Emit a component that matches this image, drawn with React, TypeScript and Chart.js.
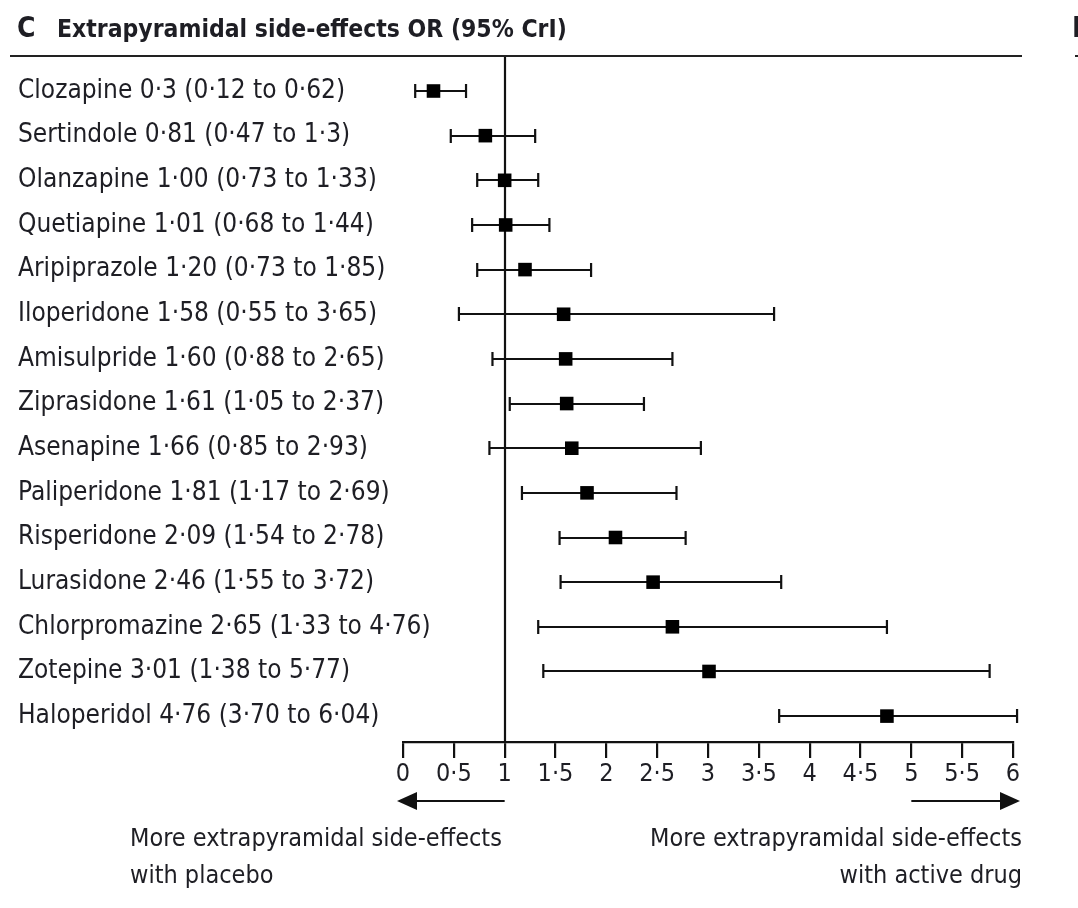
import React, { useEffect, useRef } from "react";
import { Chart, registerables } from "chart.js";

Chart.register(...registerables);

const rowLabels = [
  "Clozapine 0·3 (0·12 to 0·62)",
  "Sertindole 0·81 (0·47 to 1·3)",
  "Olanzapine 1·00 (0·73 to 1·33)",
  "Quetiapine 1·01 (0·68 to 1·44)",
  "Aripiprazole 1·20 (0·73 to 1·85)",
  "Iloperidone 1·58 (0·55 to 3·65)",
  "Amisulpride 1·60 (0·88 to 2·65)",
  "Ziprasidone 1·61 (1·05 to 2·37)",
  "Asenapine 1·66 (0·85 to 2·93)",
  "Paliperidone 1·81 (1·17 to 2·69)",
  "Risperidone 2·09 (1·54 to 2·78)",
  "Lurasidone 2·46 (1·55 to 3·72)",
  "Chlorpromazine 2·65 (1·33 to 4·76)",
  "Zotepine 3·01 (1·38 to 5·77)",
  "Haloperidol 4·76 (3·70 to 6·04)",
];
const oddsRatio = [0.3, 0.81, 1.0, 1.01, 1.2, 1.58, 1.6, 1.61, 1.66, 1.81, 2.09, 2.46, 2.65, 3.01, 4.76];
const lowerCI = [0.12, 0.47, 0.73, 0.68, 0.73, 0.55, 0.88, 1.05, 0.85, 1.17, 1.54, 1.55, 1.33, 1.38, 3.7];
const upperCI = [0.62, 1.3, 1.33, 1.44, 1.85, 3.65, 2.65, 2.37, 2.93, 2.69, 2.78, 3.72, 4.76, 5.77, 6.04];
const xMin = 0;
const xMax = 6;
const xStep = 0.5;
const referenceValue = 1;

const panelLetter = "C";
const titleText = "Extrapyramidal side-effects OR (95% CrI)";
const leftNote = ["More extrapyramidal side-effects", "with placebo"];
const rightNote = ["More extrapyramidal side-effects", "with active drug"];

const FONT = '"Liberation Sans Narrow", "DejaVu Sans Condensed", "Liberation Sans", sans-serif';
const INK = "#1e1e24";

const forestPlugin = {
  id: "forest",
  beforeDatasetsDraw(chart: any) {
    const { ctx, scales, chartArea } = chart;
    const xs = scales.x;
    const ys = scales.y;
    ctx.save();
    // row labels, aligned to the left edge of the y axis box
    ctx.fillStyle = INK;
    ctx.font = `26px ${FONT}`;
    ctx.textAlign = "left";
    ctx.textBaseline = "middle";
    for (let i = 0; i < rowLabels.length; i++) {
      ctx.fillText(rowLabels[i], ys.left, ys.getPixelForValue(i));
    }
    ctx.strokeStyle = "#111";
    ctx.lineWidth = 2.2;
    const rx = Math.round(xs.getPixelForValue(referenceValue));
    ctx.beginPath();
    ctx.moveTo(rx, chartArea.top);
    ctx.lineTo(rx, chartArea.bottom);
    ctx.stroke();
    const cap = 7;
    for (let i = 0; i < oddsRatio.length; i++) {
      const y = Math.round(ys.getPixelForValue(i));
      const x1 = xs.getPixelForValue(lowerCI[i]);
      const x2 = xs.getPixelForValue(upperCI[i]);
      ctx.beginPath();
      ctx.moveTo(x1, y);
      ctx.lineTo(x2, y);
      ctx.moveTo(x1, y - cap);
      ctx.lineTo(x1, y + cap);
      ctx.moveTo(x2, y - cap);
      ctx.lineTo(x2, y + cap);
      ctx.stroke();
    }
    ctx.restore();
  },
  afterDraw(chart: any) {
    const { ctx, scales, chartArea } = chart;
    const xs = scales.x;
    ctx.save();
    ctx.fillStyle = INK;
    ctx.textBaseline = "middle";
    ctx.font = `bold 28px ${FONT}`;
    ctx.textAlign = "left";
    ctx.fillText(panelLetter, 17, 30);
    ctx.font = `bold 24.5px ${FONT}`;
    ctx.fillText(titleText, 57, 31);
    ctx.font = `bold 28px ${FONT}`;
    ctx.fillText("D", 1072, 30);
    ctx.strokeStyle = "#222";
    ctx.lineWidth = 2;
    ctx.beginPath();
    ctx.moveTo(10, chartArea.top);
    ctx.lineTo(1022, chartArea.top);
    ctx.moveTo(1075, chartArea.top);
    ctx.lineTo(1078, chartArea.top);
    ctx.stroke();
    const ay = 801;
    const x1 = xs.getPixelForValue(referenceValue);
    const x5 = xs.getPixelForValue(5);
    const leftTip = xs.getPixelForValue(0) - 6;
    const rightTip = xs.getPixelForValue(6) + 7;
    ctx.strokeStyle = "#111";
    ctx.fillStyle = "#111";
    ctx.lineWidth = 2.2;
    ctx.beginPath();
    ctx.moveTo(x1, ay);
    ctx.lineTo(leftTip + 18, ay);
    ctx.moveTo(x5, ay);
    ctx.lineTo(rightTip - 18, ay);
    ctx.stroke();
    ctx.beginPath();
    ctx.moveTo(leftTip, ay);
    ctx.lineTo(leftTip + 20, ay - 9);
    ctx.lineTo(leftTip + 20, ay + 9);
    ctx.closePath();
    ctx.fill();
    ctx.beginPath();
    ctx.moveTo(rightTip, ay);
    ctx.lineTo(rightTip - 20, ay - 9);
    ctx.lineTo(rightTip - 20, ay + 9);
    ctx.closePath();
    ctx.fill();
    ctx.fillStyle = INK;
    ctx.font = `25px ${FONT}`;
    ctx.textAlign = "left";
    ctx.fillText(leftNote[0], 130, 839);
    ctx.fillText(leftNote[1], 130, 876);
    ctx.textAlign = "right";
    ctx.fillText(rightNote[0], 1022, 839);
    ctx.fillText(rightNote[1], 1022, 876);
    ctx.restore();
  },
};

export default function App() {
  const ref = useRef<HTMLCanvasElement>(null);
  useEffect(() => {
    if (!ref.current) return;
    const chart = new Chart(ref.current, {
      type: "scatter",
      data: {
        datasets: [
          {
            data: oddsRatio.map((v, i) => ({ x: v, y: i })),
            pointStyle: "rect",
            pointRadius: 9.6,
            pointHoverRadius: 9.6,
            backgroundColor: "#000",
            borderWidth: 0,
          },
        ],
      },
      options: {
        animation: false,
        responsive: false,
        events: [],
        layout: { padding: { left: 18, right: 65, top: 56, bottom: 106 } },
        plugins: { legend: { display: false }, tooltip: { enabled: false }, title: { display: false } },
        scales: {
          x: {
            type: "linear",
            min: xMin,
            max: xMax,
            afterBuildTicks: (scale: any) => {
              const t = [];
              for (let v = xMin; v <= xMax + 1e-9; v += xStep) t.push({ value: Math.round(v * 10) / 10 });
              scale.ticks = t;
            },
            afterFit: (scale: any) => {
              scale.height = 60;
            },
            ticks: {
              autoSkip: false,
              maxRotation: 0,
              padding: 1,
              color: INK,
              font: { family: FONT, size: 25 },
              callback: (v: any) => String(v).replace(".", "·"),
            },
            grid: {
              drawOnChartArea: false,
              drawTicks: true,
              tickLength: 16,
              color: "#111",
              lineWidth: 2.2,
            },
            border: { display: true, color: "#111", width: 2.2 },
          },
          y: {
            type: "linear",
            reverse: true,
            min: -0.784,
            max: 14.58,
            afterBuildTicks: (scale: any) => {
              scale.ticks = rowLabels.map((_, i) => ({ value: i }));
            },
            afterFit: (scale: any) => {
              scale.width = 385;
            },
            ticks: { display: false },
            grid: { display: false },
            border: { display: false },
          },
        },
      },
      plugins: [forestPlugin],
    } as any);
    return () => chart.destroy();
  }, []);
  return (
    <div style={{ position: "fixed", left: 0, top: 0, width: 1078, height: 908, background: "#fff" }}>
      <canvas ref={ref} width={1078} height={908} style={{ display: "block" }} />
    </div>
  );
}
